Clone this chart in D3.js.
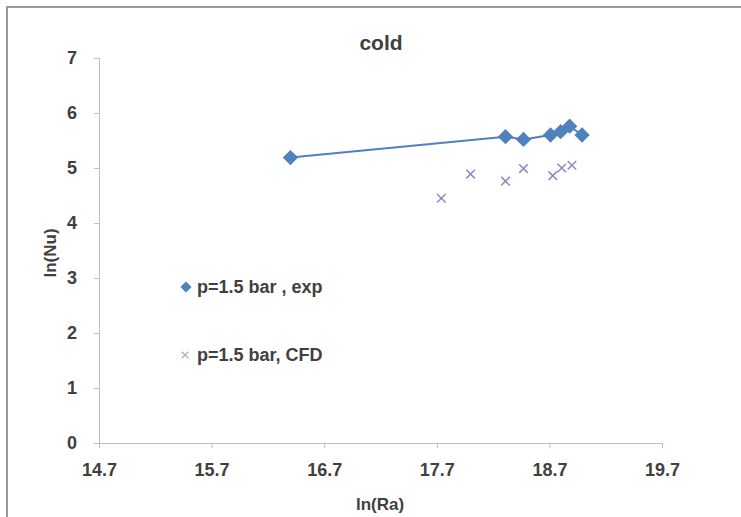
<!DOCTYPE html>
<html>
<head>
<meta charset="utf-8">
<script src="https://cdn.jsdelivr.net/npm/d3@7"></script>
<style>
  body { margin: 0; background: #fff; }
  svg text { font-family: "Liberation Sans", Arial, sans-serif; font-weight: bold; fill: #404040; }
</style>
</head>
<body>
<div id="chart"></div>
<script>
// ── Data ──────────────────────────────────────────────────────────────────
const expLnRa = [16.40, 18.31, 18.47, 18.71, 18.80, 18.88, 18.99];
const expLnNu = [5.19, 5.57, 5.52, 5.60, 5.66, 5.76, 5.60];
const cfdLnRa = [17.74, 18.00, 18.31, 18.47, 18.73, 18.81, 18.90];
const cfdLnNu = [4.45, 4.89, 4.76, 4.99, 4.86, 5.00, 5.05];
const xTicks = [14.7, 15.7, 16.7, 17.7, 18.7, 19.7];
const yTicks = [0, 1, 2, 3, 4, 5, 6, 7];
const legendLabels = ["p=1.5 bar , exp", "p=1.5 bar, CFD"];

(function () {
    const W = 741, H = 517;
    const expColor = "#4f81bd", cfdColor = "#8f86bf";

    const svg = d3.select("#chart").append("svg")
        .attr("width", W).attr("height", H);

    // outer chart frame (clipped at right/bottom in the picture)
    svg.append("rect").attr("x", 7).attr("y", 7)
        .attr("width", W + 20).attr("height", H + 20)
        .attr("fill", "none").attr("stroke", "#9a9a9a").attr("stroke-width", 2);

    const x = d3.scaleLinear().domain([14.7, 19.7]).range([99, 662]);
    const y = d3.scaleLinear().domain([0, 7]).range([443, 58]);

    // ── Axes ────────────────────────────────────────────────────────────
    const xAxis = svg.append("g").attr("transform", `translate(0,${y(0)})`)
        .call(d3.axisBottom(x).tickValues(xTicks).tickFormat(d3.format(".1f")).tickSize(5).tickPadding(15));
    const yAxis = svg.append("g").attr("transform", `translate(${x(14.7)},0)`)
        .call(d3.axisLeft(y).tickValues(yTicks).tickFormat(d3.format("d")).tickSize(5).tickPadding(17));
    [xAxis, yAxis].forEach(a => {
        a.selectAll("path, line").attr("stroke", "#bfbfbf");
        a.selectAll("text").attr("font-size", 18).style("font-family", "'Liberation Sans', Arial, sans-serif")
            .style("font-weight", "bold").attr("fill", "#404040");
    });

    // ── Titles ──────────────────────────────────────────────────────────
    svg.append("text").attr("x", 381).attr("y", 50).attr("text-anchor", "middle")
        .attr("font-size", 21).text("cold");
    svg.append("text").attr("x", 380).attr("y", 510).attr("text-anchor", "middle")
        .attr("font-size", 17).text("ln(Ra)");
    svg.append("text").attr("transform", "translate(56,253) rotate(-90)")
        .attr("text-anchor", "middle").attr("font-size", 17).text("ln(Nu)");

    // ── Series ──────────────────────────────────────────────────────────
    const expData = expLnRa.map((v, i) => [v, expLnNu[i]]);
    const cfdData = cfdLnRa.map((v, i) => [v, cfdLnNu[i]]);

    svg.append("path").datum(expData)
        .attr("d", d3.line().x(d => x(d[0])).y(d => y(d[1])))
        .attr("fill", "none").attr("stroke", expColor).attr("stroke-width", 2);

    const diamond = d3.symbol().type(d3.symbolDiamond2).size(150);
    svg.selectAll(".exp").data(expData).join("path")
        .attr("class", "exp")
        .attr("transform", d => `translate(${x(d[0])},${y(d[1])})`)
        .attr("d", diamond).attr("fill", expColor);

    const cross = d3.symbol().type(d3.symbolX).size(50);
    svg.selectAll(".cfd").data(cfdData).join("path")
        .attr("class", "cfd")
        .attr("transform", d => `translate(${x(d[0])},${y(d[1])})`)
        .attr("d", cross).attr("fill", "none").attr("stroke", cfdColor).attr("stroke-width", 1.5);

    // ── Legend ──────────────────────────────────────────────────────────
    const leg = svg.append("g");
    leg.append("path").attr("transform", "translate(186,287)")
        .attr("d", d3.symbol().type(d3.symbolDiamond2).size(80)).attr("fill", expColor);
    leg.append("path").attr("transform", "translate(185,355)")
        .attr("d", d3.symbol().type(d3.symbolX).size(30))
        .attr("fill", "none").attr("stroke", "#b0aac8").attr("stroke-width", 1.2);
    legendLabels.forEach((t, i) => {
        leg.append("text").attr("x", 197).attr("y", i === 0 ? 287 : 355)
            .attr("dy", "0.35em").attr("font-size", 18).text(t);
    });
})();
</script>
</body>
</html>
